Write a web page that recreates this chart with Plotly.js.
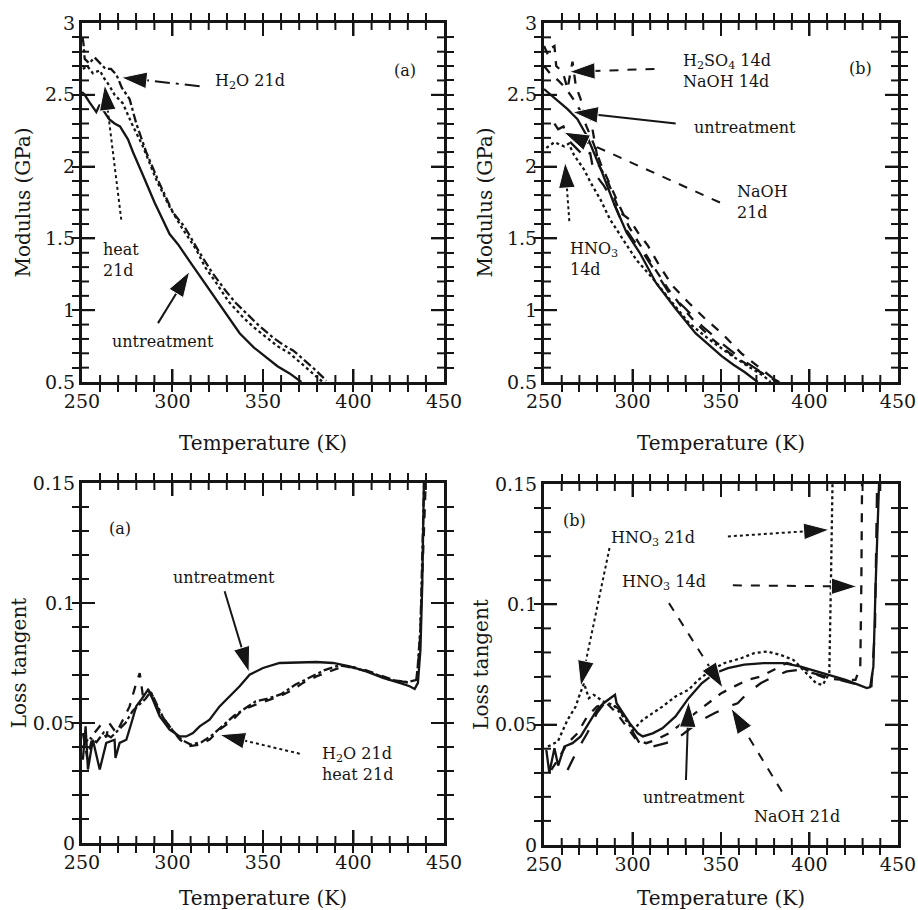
<!DOCTYPE html>
<html><head><meta charset="utf-8">
<script src="https://cdn.plot.ly/plotly-3.0.1.min.js"></script>
<style>html,body{margin:0;padding:0;background:#fff;overflow:hidden}.c{position:absolute}
.c .main-svg,.c .svg-container{background:transparent!important}</style>
</head><body>
<div id="p1" class="c" style="left:0;top:0;width:480px;height:455px"></div>
<div id="p3" class="c" style="left:0;top:455px;width:480px;height:455px"></div>
<div id="p2" class="c" style="left:459px;top:0;width:459px;height:455px"></div>
<div id="p4" class="c" style="left:459px;top:455px;width:459px;height:455px"></div>
<script>
// ---------- (a) Modulus ----------
const modA_untreat_T = [250, 251.5, 254, 257.9, 259.8, 261.5, 263.4, 265, 268, 271, 275.4, 278.2, 283.7, 290.1, 298.4, 303, 309.5, 315, 322.4, 330, 337.1, 345, 351.8, 358, 364.7, 371.2];
const modA_untreat_M = [2.52, 2.50, 2.45, 2.38, 2.43, 2.40, 2.36, 2.33, 2.30, 2.28, 2.19, 2.10, 1.94, 1.75, 1.53, 1.46, 1.34, 1.24, 1.10, 0.96, 0.84, 0.74, 0.67, 0.61, 0.56, 0.50];
const modA_h2o_T = [250.3, 250.8, 251.5, 254, 257, 260, 263, 266, 269, 272, 276.3, 280, 285.5, 292.9, 300.3, 306.7, 315, 322, 329.7, 335, 340.8, 348, 355.5, 361, 366.6, 372, 377.6, 385];
const modA_h2o_M = [2.90, 2.86, 2.75, 2.72, 2.76, 2.72, 2.68, 2.68, 2.64, 2.55, 2.47, 2.30, 2.10, 1.88, 1.68, 1.58, 1.40, 1.26, 1.13, 1.05, 0.98, 0.89, 0.81, 0.76, 0.72, 0.66, 0.60, 0.51];
const modA_heat_T = [250.5, 253, 256, 259.8, 262, 265.3, 268, 272.6, 278.2, 283.7, 291, 298.4, 304.9, 313.2, 318, 324.2, 331, 339, 345, 351.8, 358, 364.7, 371, 377.6, 383];
const modA_heat_M = [2.68, 2.70, 2.65, 2.67, 2.62, 2.56, 2.50, 2.44, 2.28, 2.14, 1.91, 1.72, 1.58, 1.42, 1.30, 1.19, 1.06, 0.95, 0.88, 0.81, 0.75, 0.70, 0.63, 0.56, 0.50];

// ---------- (b) Modulus ----------
const modB_untreat_T = [250, 255.9, 260, 263.3, 268.9, 274.4, 278.1, 282.8, 289.3, 296.7, 304.1, 313.3, 324.4, 335.6, 343, 350.4, 357, 363.3, 370.7];
const modB_untreat_M = [2.54, 2.48, 2.44, 2.40, 2.33, 2.21, 2.10, 1.96, 1.75, 1.54, 1.40, 1.19, 1.01, 0.84, 0.76, 0.68, 0.62, 0.57, 0.50];
const modB_h2so4_T = [250, 252.2, 253.5, 255.9, 256.9, 259.6, 261.5, 263.3, 265, 266.1, 268, 270.7, 274.4, 276, 278.1, 280.9, 285.6, 289.3, 293, 298.5, 303.1, 308.7, 315.2, 322.6, 331.9, 341.1, 350.4, 361.5, 370.7, 380];
const modB_h2so4_M = [2.84, 2.78, 2.82, 2.84, 2.70, 2.67, 2.62, 2.54, 2.66, 2.73, 2.56, 2.47, 2.31, 2.36, 2.21, 2.01, 1.91, 1.80, 1.68, 1.63, 1.54, 1.45, 1.31, 1.17, 1.05, 0.94, 0.84, 0.70, 0.61, 0.52];
const modB_naoh14_T = [250, 254, 258, 262, 266, 270, 274, 278, 282, 287, 292, 298, 305, 312, 320, 328, 336, 345, 355, 365, 375, 383];
const modB_naoh14_M = [2.70, 2.64, 2.60, 2.55, 2.48, 2.40, 2.28, 2.16, 2.02, 1.88, 1.74, 1.58, 1.44, 1.30, 1.15, 1.02, 0.91, 0.80, 0.70, 0.62, 0.55, 0.50];
const modB_naoh21_T = [255.9, 258, 261, 263.3, 268.9, 274.4, 276, 278.1, 283.7, 289.3, 294.8, 300.4, 306, 313.3, 320.7, 330, 339.3, 350.4, 361.5, 372.6, 381.9];
const modB_naoh21_M = [2.30, 2.26, 2.28, 2.19, 2.12, 2.05, 2.10, 1.96, 1.87, 1.75, 1.59, 1.49, 1.40, 1.26, 1.12, 1.01, 0.89, 0.77, 0.66, 0.57, 0.50];
const modB_hno3_T = [251.3, 255.9, 261.5, 264, 267, 272.6, 276.3, 281.9, 287.4, 294.8, 302.2, 311.5, 320.7, 331.9, 343, 354.1, 365.2, 374.4, 378];
const modB_hno3_M = [2.13, 2.17, 2.14, 2.16, 2.08, 1.98, 1.89, 1.77, 1.63, 1.49, 1.35, 1.22, 1.08, 0.91, 0.80, 0.70, 0.61, 0.54, 0.50];

// ---------- (a) Loss tangent ----------
const tanA_untreat_T = [250.5, 252, 253.3, 256, 259.8, 263.4, 268, 268.5, 270.8, 274.5, 277.3, 280, 283, 286.5, 289.2, 292.9, 298.4, 304, 307.6, 311.3, 315, 320.5, 326, 331.6, 337.1, 342.6, 350, 359.2, 370.3, 379.5, 388.7, 397.9, 407.1, 416.3, 425.5, 431, 433.8, 435.6, 437, 438, 438.9];
const tanA_untreat_L = [0.0347, 0.0486, 0.0306, 0.043, 0.0306, 0.0417, 0.043, 0.0354, 0.0417, 0.043, 0.050, 0.057, 0.060, 0.0639, 0.0597, 0.0528, 0.0472, 0.0444, 0.0444, 0.0458, 0.0486, 0.0514, 0.0569, 0.0611, 0.0653, 0.0701, 0.0729, 0.075, 0.0753, 0.0754, 0.075, 0.0736, 0.0715, 0.0688, 0.0667, 0.0653, 0.0642, 0.0667, 0.0806, 0.108, 0.15];
const tanA_h2o_T = [250.5, 253, 256, 259.8, 263.4, 265, 269, 273.6, 276.3, 280, 281.9, 283.7, 286.5, 289.2, 292.9, 298.4, 304, 308.6, 315, 320.5, 326, 333.4, 338.9, 348.2, 359.2, 366.6, 372.1, 379.5, 386.8, 394.2, 403.4, 412.6, 421.8, 431, 434.7, 436.5, 438.7, 439.9];
const tanA_h2o_L = [0.0458, 0.035, 0.045, 0.0486, 0.044, 0.05, 0.0458, 0.0528, 0.0569, 0.0667, 0.0708, 0.0611, 0.0639, 0.0611, 0.0542, 0.0486, 0.0431, 0.0403, 0.041, 0.0431, 0.0472, 0.0514, 0.0556, 0.0583, 0.0611, 0.0639, 0.0667, 0.0694, 0.0715, 0.0736, 0.0729, 0.0706, 0.068, 0.0667, 0.068, 0.0806, 0.122, 0.15];
const tanA_heat_T = [250.5, 254, 258, 262, 266, 270, 274, 278, 282, 285, 288, 291, 295, 300, 305, 310, 316, 322, 328, 334, 340, 346, 352, 360, 368, 376, 384, 392, 400, 410, 420, 430, 435, 437, 439];
const tanA_heat_L = [0.040, 0.044, 0.042, 0.046, 0.044, 0.047, 0.050, 0.055, 0.058, 0.060, 0.063, 0.058, 0.052, 0.047, 0.043, 0.041, 0.042, 0.045, 0.049, 0.053, 0.056, 0.059, 0.060, 0.062, 0.066, 0.069, 0.072, 0.074, 0.073, 0.071, 0.068, 0.067, 0.068, 0.09, 0.15];

// ---------- (b) Loss tangent ----------
const tanB_untreat_T = [251.3, 253, 255.9, 258, 261.5, 266.1, 270.7, 276.2, 279.9, 283.6, 287.3, 290.1, 291, 294.7, 298.4, 303, 305.8, 311.4, 316.9, 324.3, 331.7, 339.1, 346.5, 353.9, 363.1, 374.2, 385.3, 394.5, 403.8, 413, 420.4, 427.8, 432.4, 434.3, 436.1, 437.4, 439.3];
const tanB_untreat_L = [0.0395, 0.030, 0.0402, 0.033, 0.0409, 0.0423, 0.0451, 0.052, 0.0561, 0.0589, 0.061, 0.0624, 0.0589, 0.0548, 0.0506, 0.0464, 0.0451, 0.0464, 0.0485, 0.0534, 0.061, 0.0672, 0.0714, 0.0735, 0.0749, 0.0756, 0.0756, 0.0742, 0.0721, 0.07, 0.0686, 0.0665, 0.0652, 0.0656, 0.0742, 0.1088, 0.15];
const tanB_hno321_T = [252.2, 257.8, 263.3, 267.9, 269.8, 272.6, 275.3, 278.1, 283.6, 289.2, 294.7, 300.3, 305.8, 311.4, 316.9, 324.3, 331.7, 337.2, 344.6, 352, 361.3, 368.7, 376.1, 383.5, 390.9, 398.2, 403.8, 407.5, 411.2, 412.1, 413];
const tanB_hno321_L = [0.0409, 0.043, 0.052, 0.0575, 0.0617, 0.0672, 0.061, 0.0624, 0.0596, 0.0582, 0.0534, 0.0478, 0.052, 0.0548, 0.0575, 0.0617, 0.0645, 0.0686, 0.0728, 0.0756, 0.0776, 0.0797, 0.0804, 0.079, 0.0769, 0.0714, 0.0672, 0.0665, 0.0714, 0.1088, 0.15];
const tanB_hno314_T = [254.1, 257.8, 263.3, 268.9, 274.4, 279.9, 285.5, 291, 296.6, 302.1, 307.7, 313.2, 320.6, 328, 335.4, 342.8, 350.2, 357.6, 365, 372.4, 379.8, 387.2, 394.5, 401.9, 409.3, 418.6, 426, 428.7, 429.3, 429.7];
const tanB_hno314_L = [0.0312, 0.0354, 0.0423, 0.0464, 0.0534, 0.0575, 0.0589, 0.0548, 0.0492, 0.0437, 0.0423, 0.0437, 0.0464, 0.0506, 0.0548, 0.0589, 0.0631, 0.0659, 0.0686, 0.07, 0.0728, 0.0756, 0.0742, 0.0714, 0.0693, 0.0686, 0.0686, 0.0742, 0.1088, 0.15];
const tanB_naoh21_T = [263.3, 268.9, 274.4, 279.9, 285.5, 292.9, 298.4, 304, 311.4, 318.8, 324.3, 331.7, 339.1, 346.5, 353.9, 359.4, 365, 372.4, 379.8, 387.2, 394.5, 401.9, 409.3, 416.7, 424.1, 431.5, 435, 437, 438.2];
const tanB_naoh21_L = [0.0312, 0.0395, 0.0464, 0.0548, 0.0603, 0.0561, 0.0492, 0.0423, 0.0409, 0.0423, 0.0437, 0.0478, 0.052, 0.0548, 0.0575, 0.0589, 0.0631, 0.0672, 0.07, 0.0721, 0.0728, 0.0714, 0.07, 0.0686, 0.0672, 0.0659, 0.066, 0.09, 0.15];

// ---------- arrows: [panel, tailT, tailV, headT, headV, dash] ----------
const arrowsList = [
  [1, 315, 2.56, 271.7, 2.62, 'longdashdot'],
  [1, 271.7, 1.63, 262.5, 2.57, 'dot'],
  [1, 292, 0.91, 309.5, 1.27, 'solid'],
  [2, 312.4, 2.68, 264.3, 2.66, 'dash'],
  [2, 324.4, 2.30, 266.1, 2.38, 'solid'],
  [2, 349.4, 1.75, 261.1, 2.24, 'dash'],
  [2, 264.3, 1.62, 261.9, 2.03, 'dot'],
  [3, 328.8, 0.1049, 342.3, 0.0711, 'solid'],
  [3, 370.3, 0.0372, 326.1, 0.0451, 'dot'],
  [4, 287, 0.1234, 270.7, 0.0659, 'dot'],
  [4, 353.9, 0.1282, 411.2, 0.131, 'dot'],
  [4, 356.7, 0.1079, 426.9, 0.1074, 'dash'],
  [4, 320.6, 0.1005, 351.1, 0.0652, 'dash'],
  [4, 330.2, 0.027, 331.7, 0.0596, 'solid'],
  [4, 384.4, 0.0222, 355.7, 0.0568, 'dash']
];
// ---------- labels: [panel, T, V, text, xanchor] ----------
const labelsList = [
  [1, 428.3, 2.67, '(a)', 'center'],
  [1, 322.4, 2.59, 'H<sub>2</sub>O 21d', 'left'],
  [1, 260.7, 1.35, 'heat<br>21d', 'left'],
  [1, 294.8, 0.78, 'untreatment', 'center'],
  [2, 429, 2.68, '(b)', 'center'],
  [2, 327.2, 2.665, 'H<sub>2</sub>SO<sub>4</sub> 14d<br>NaOH 14d', 'left'],
  [2, 333.7, 2.27, 'untreatment', 'left'],
  [2, 357.8, 1.75, 'NaOH<br>21d', 'left'],
  [2, 263.3, 1.355, 'HNO<sub>3</sub><br>14d', 'left'],
  [3, 270.8, 0.131, '(a)', 'center'],
  [3, 328.3, 0.1107, 'untreatment', 'center'],
  [3, 381.7, 0.0328, 'H<sub>2</sub>O 21d<br>heat 21d', 'left'],
  [4, 267.4, 0.135, '(b)', 'center'],
  [4, 287, 0.1275, 'HNO<sub>3</sub> 21d', 'left'],
  [4, 292.9, 0.1092, 'HNO<sub>3</sub> 14d', 'left'],
  [4, 334.5, 0.0197, 'untreatment', 'center'],
  [4, 392.7, 0.0118, 'NaOH 21d', 'center']
];

const FONT = 'DejaVu Serif';
const INK = '#151515';
const PANEL_W = {1: 480, 2: 459, 3: 480, 4: 459};
const PANEL_H = 455;
const PANEL_XD = {1: [0.1708, 0.925], 2: [0.1852, 0.9564], 3: [0.1708, 0.925], 4: [0.1852, 0.9564]};
const PANEL_YD = {1: [0.1604, 0.9495], 2: [0.1604, 0.9495], 3: [0.1473, 0.9385], 4: [0.1429, 0.9363]};
const X_RANGE = [250, 450], X_MAJOR = 50, X_MINOR = 10;
const Y_RANGE_MOD = [0.5, 3], Y_MAJOR_MOD = 0.5, Y_MINOR_MOD = 0.1;
const Y_RANGE_TAN = [0, 0.15], Y_MAJOR_TAN = 0.05, Y_MINOR_TAN = 0.01;
const MAJOR_LEN = 13, MINOR_LEN = 7;

const curveSets = {
  1: [[modA_untreat_T, modA_untreat_M, 'solid'], [modA_h2o_T, modA_h2o_M, 'dashdot'], [modA_heat_T, modA_heat_M, 'dot']],
  2: [[modB_untreat_T, modB_untreat_M, 'solid'], [modB_h2so4_T, modB_h2so4_M, 'dash'], [modB_naoh14_T, modB_naoh14_M, 'dash'],
      [modB_naoh21_T, modB_naoh21_M, 'longdash'], [modB_hno3_T, modB_hno3_M, 'dot']],
  3: [[tanA_untreat_T, tanA_untreat_L, 'solid'], [tanA_h2o_T, tanA_h2o_L, 'dash'], [tanA_heat_T, tanA_heat_L, 'dashdot']],
  4: [[tanB_untreat_T, tanB_untreat_L, 'solid'], [tanB_hno321_T, tanB_hno321_L, 'dot'], [tanB_hno314_T, tanB_hno314_L, 'dash'],
      [tanB_naoh21_T, tanB_naoh21_L, 'longdash']]
};

// tick marks on all four frame sides, placed in axis units (inside ticks, major + minor)
function tickShapes(p){
  const top = p <= 2;
  const plotW = PANEL_W[p] * (PANEL_XD[p][1] - PANEL_XD[p][0]);
  const plotH = PANEL_H * (PANEL_YD[p][1] - PANEL_YD[p][0]);
  const S = [];
  const nx = Math.round((X_RANGE[1] - X_RANGE[0]) / X_MINOR), per = Math.round(X_MAJOR / X_MINOR);
  for (let i = 1; i < nx; i++) {
    const t = X_RANGE[0] + X_MINOR * i;
    const f = (i % per === 0 ? MAJOR_LEN : MINOR_LEN) / plotH;
    S.push({type: 'line', xref: 'x', yref: 'y domain', x0: t, x1: t, y0: 0, y1: f, line: {color: INK, width: 2}});
    S.push({type: 'line', xref: 'x', yref: 'y domain', x0: t, x1: t, y0: 1, y1: 1 - f, line: {color: INK, width: 2}});
  }
  const yr = top ? Y_RANGE_MOD : Y_RANGE_TAN, ym = top ? Y_MINOR_MOD : Y_MINOR_TAN, yM = top ? Y_MAJOR_MOD : Y_MAJOR_TAN;
  const ny = Math.round((yr[1] - yr[0]) / ym), pery = Math.round(yM / ym);
  for (let i = 1; i < ny; i++) {
    const v = yr[0] + ym * i;
    const f = (i % pery === 0 ? MAJOR_LEN : MINOR_LEN) / plotW;
    S.push({type: 'line', xref: 'x domain', yref: 'y', x0: 0, x1: f, y0: v, y1: v, line: {color: INK, width: 2}});
    S.push({type: 'line', xref: 'x domain', yref: 'y', x0: 1, x1: 1 - f, y0: v, y1: v, line: {color: INK, width: 2}});
  }
  return S;
}

function axesLayout(p){
  const top = p <= 2;
  const x = {domain: PANEL_XD[p], range: X_RANGE, dtick: X_MAJOR, ticks: 'inside', ticklen: MAJOR_LEN, tickwidth: 2, tickcolor: INK, mirror: 'ticks',
    showline: true, linewidth: 3, linecolor: INK, minor: {dtick: X_MINOR, ticklen: MINOR_LEN, tickwidth: 2, tickcolor: INK},
    showgrid: false, zeroline: false, tickfont: {family: FONT, size: 19, color: INK},
    title: {text: 'Temperature (K)', font: {family: FONT, size: 20, color: INK}}};
  const y = {domain: PANEL_YD[p], range: top ? Y_RANGE_MOD : Y_RANGE_TAN, dtick: top ? Y_MAJOR_MOD : Y_MAJOR_TAN, ticks: 'inside',
    ticklen: MAJOR_LEN, tickwidth: 2, tickcolor: INK, mirror: 'ticks', showline: true, linewidth: 3, linecolor: INK,
    minor: {dtick: top ? Y_MINOR_MOD : Y_MINOR_TAN, ticklen: MINOR_LEN, tickwidth: 2, tickcolor: INK},
    showgrid: false, zeroline: false, tickfont: {family: FONT, size: 19, color: INK},
    title: {text: top ? 'Modulus (GPa)' : 'Loss tangent', font: {family: FONT, size: 20, color: INK}}};
  return {width: PANEL_W[p], height: PANEL_H, margin: {l: 0, r: 0, t: 0, b: 0}, showlegend: false, xaxis: x, yaxis: y};
}

function draw(p){
  const traces = curveSets[p].map(c => ({x: c[0], y: c[1], type: 'scatter', mode: 'lines', showlegend: false,
    line: {color: INK, width: 2.3, dash: c[2]}}));
  arrowsList.filter(a => a[0] === p).forEach(a => {
    traces.push({x: [a[1], a[3]], y: [a[2], a[4]], type: 'scatter', mode: 'lines+markers', showlegend: false,
      line: {color: INK, width: 2, dash: a[5]},
      marker: {symbol: ['circle', 'arrow'], size: [0, 27], angleref: 'previous', color: INK, opacity: 1}});
  });
  const L = axesLayout(p);
  L.shapes = tickShapes(p);
  L.annotations = labelsList.filter(l => l[0] === p).map(l => ({x: l[1], y: l[2], text: l[3], xanchor: l[4], align: 'left',
    showarrow: false, font: {family: FONT, size: 16, color: INK}}));
  try { Plotly.newPlot('p' + p, traces, L, {staticPlot: true}); } catch (e) { console.error(e); }
}
[1, 3, 2, 4].forEach(draw);
</script>
</body></html>
